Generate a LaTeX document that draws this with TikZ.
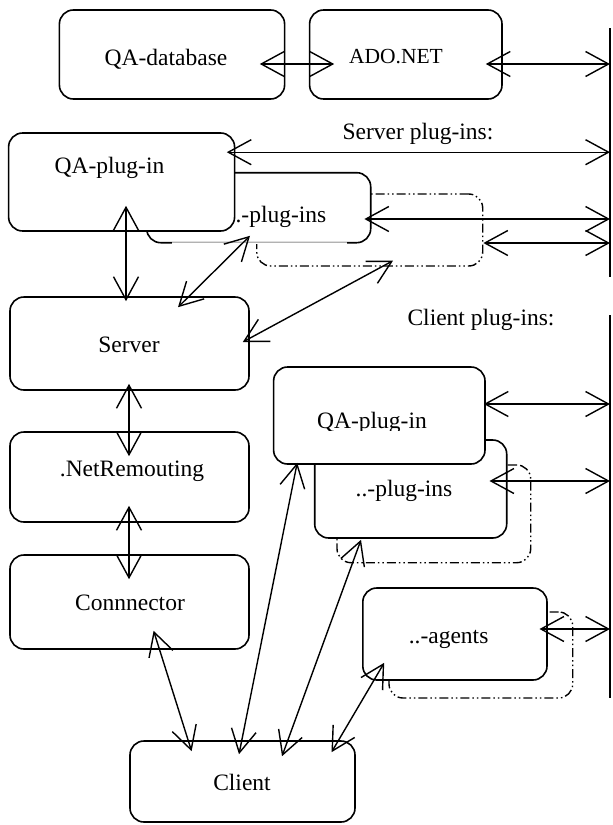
\documentclass[tikz,border=0pt]{standalone}
\usepackage{fontspec}
\setmainfont{Liberation Serif}
\usetikzlibrary{arrows.meta,calc}
\begin{document}
\begin{tikzpicture}[x=1pt,y=-1pt,
  box/.style={draw,line width=1.6pt,rounded corners=14pt,fill=white,inner sep=0pt},
  dbox/.style={draw,line width=1.4pt,rounded corners=14pt,inner sep=0pt,
    dash pattern=on 9pt off 3pt on 1.5pt off 3pt on 1.5pt off 3pt},
  lbl/.style={anchor=base,inner sep=0pt,font=\fontsize{23.5}{28}\selectfont},
  slbl/.style={anchor=base,inner sep=0pt,font=\fontsize{21.5}{26}\selectfont},
  link/.style={line width=1.4pt,
    {Straight Barb[length=23pt,width=25pt]}-{Straight Barb[length=23pt,width=25pt]}},
  bus/.style={line width=2.2pt}]
\useasboundingbox (0,0) rectangle (613,825);

% top row
\node[box, minimum width=225.2pt, minimum height=89pt] (qadb) at (172,54.5) {};
\node[lbl] (t-qadb) at (166,65) {QA-database};
\node[box, minimum width=192.4pt, minimum height=89pt] (ado) at (405.8,54.5) {};
\node[slbl] (t-ado) at (396,63) {ADO.NET};

% server plug-ins
\node[lbl] (t-splugins) at (418,139) {Server plug-ins:};
\node[dbox, minimum width=226pt, minimum height=72pt] (sdash) at (369.7,230) {};
\node[box, minimum width=224pt, minimum height=70pt] (splug) at (258.7,207.7) {};
\node[lbl] (t-splug) at (278,222) {..-plug-ins};
\draw[white,line width=2.2pt] (172,242.7) -- (347,242.7);
\draw[gray!60,line width=0.6pt] (172,242.7) -- (347,242.7);
\node[box, minimum width=226pt, minimum height=98pt] (sqa) at (121.6,182) {};
\node[lbl] (t-sqa) at (109.5,173) {QA-plug-in};

% left column
\node[box, minimum width=239pt, minimum height=93pt] (server) at (129.5,343.5) {};
\node[lbl] (t-server) at (129,352.7) {Server};
\node[box, minimum width=239pt, minimum height=90pt] (nr) at (129.5,477) {};
\node[lbl] (t-nr) at (132,476.7) {.NetRemouting};
\node[box, minimum width=239pt, minimum height=94pt] (conn) at (129.5,602) {};
\node[lbl] (t-conn) at (130,610.7) {Connnector};
\node[box, minimum width=225pt, minimum height=81pt] (client) at (242.5,781.5) {};
\node[lbl] (t-client) at (242,790) {Client};

% client plug-ins
\node[lbl] (t-cplugins) at (481,325.5) {Client plug-ins:};
\node[dbox, minimum width=193.7pt, minimum height=97.7pt] (cdash) at (433.85,513.85) {};
\node[box, minimum width=192pt, minimum height=98pt] (cplug) at (410.7,489) {};
\node[lbl] (t-cplug) at (404,496.7) {..-plug-ins};
\node[box, minimum width=211.4pt, minimum height=97pt] (cqa) at (379.3,415.5) {};
\begin{scope}
  \clip (300,380) rectangle (460,430);
  \node[lbl] (t-cqa) at (372,428) {QA-plug-in};
\end{scope}

% agents
\node[dbox, minimum width=183.7pt, minimum height=86pt] (adash) at (480.85,655) {};
\node[box, minimum width=184.2pt, minimum height=92pt] (agents) at (454.9,634) {};
\node[lbl] (t-agents) at (448.6,643) {..-agents};

% bus lines
\coordinate (busAtop) at (610,28);
\coordinate (busAbot) at (610,277);
\coordinate (busBtop) at (610,315);
\coordinate (busBbot) at (610,698);
\draw[bus] (busAtop) -- (busAbot);
\draw[bus] (busBtop) -- (busBbot);

% connector end points
\coordinate (e-qadb) at ([shift={(-25.6,9.5)}]qadb.east);
\coordinate (e-ado-l) at ([shift={(25.4,9.5)}]ado.west);
\coordinate (e-ado-r) at ([shift={(-17,9.5)}]ado.east);
\coordinate (e-sqa-r) at ([shift={(-8.6,20)}]sqa.north east);
\coordinate (e-splug-r) at ([shift={(-7.1,11.3)}]splug.east);
\coordinate (e-sdash-r) at ([shift={(0,13)}]sdash.east);
\coordinate (e-sqa-b) at ([shift={(4.4,-26)}]sqa.south);
\coordinate (e-srv-1) at ([shift={(-3.5,5)}]server.north);
\coordinate (e-splug-b) at ([shift={(-8.7,-7.7)}]splug.south);
\coordinate (e-srv-2) at ([shift={(48.5,11)}]server.north);
\coordinate (e-sdash-b) at ([shift={(23.3,-6)}]sdash.south);
\coordinate (e-srv-3) at ([shift={(-7,-1.5)}]server.east);
\coordinate (e-srv-b) at ([shift={(-0.5,-7)}]server.south);
\coordinate (e-nr-t) at ([shift={(-0.5,25)}]nr.north);
\coordinate (e-nr-b) at ([shift={(-0.5,-17)}]nr.south);
\coordinate (e-conn-t) at ([shift={(-0.5,25)}]conn.north);
\coordinate (e-conn-b) at ([shift={(24.1,-19)}]conn.south);
\coordinate (e-cl-1) at ([shift={(-50.9,11)}]client.north);
\coordinate (e-cqa-b) at ([shift={(24.4,-2)}]cqa.south west);
\coordinate (e-cl-2) at ([shift={(-3.5,14)}]client.north);
\coordinate (e-cplug-b) at ([shift={(-49.7,1)}]cplug.south);
\coordinate (e-cl-3) at ([shift={(39.5,16)}]client.north);
\coordinate (e-ag-b) at ([shift={(22.2,-18)}]agents.south west);
\coordinate (e-cl-4) at ([shift={(89,12)}]client.north);
\coordinate (e-cqa-r) at ([shift={(-2,-11.5)}]cqa.east);
\coordinate (e-cplug-r) at ([shift={(-18,-8)}]cplug.east);
\coordinate (e-ag-r) at ([shift={(-8.3,-5)}]agents.east);

% connectors
\draw[link] (e-qadb) -- (e-ado-l);
\draw[link] (e-ado-r) -- (e-ado-r -| busAtop);
\draw[link] (e-sqa-r) -- (e-sqa-r -| busAtop);
\draw[link] (e-splug-r) -- (e-splug-r -| busAtop);
\draw[link] (e-sdash-r) -- (e-sdash-r -| busAtop);
\draw[link] (e-sqa-b) -- (e-srv-1);
\draw[link] (e-splug-b) -- (e-srv-2);
\draw[link] (e-sdash-b) -- (e-srv-3);
\draw[link] (e-srv-b) -- (e-nr-t);
\draw[link] (e-nr-b) -- (e-conn-t);
\draw[link] (e-conn-b) -- (e-cl-1);
\draw[link] (e-cqa-b) -- (e-cl-2);
\draw[link] (e-cplug-b) -- (e-cl-3);
\draw[link] (e-ag-b) -- (e-cl-4);
\draw[link] (e-cqa-r) -- (e-cqa-r -| busBtop);
\draw[link] (e-cplug-r) -- (e-cplug-r -| busBtop);
\draw[link] (e-ag-r) -- (e-ag-r -| busBtop);
\end{tikzpicture}
\end{document}
